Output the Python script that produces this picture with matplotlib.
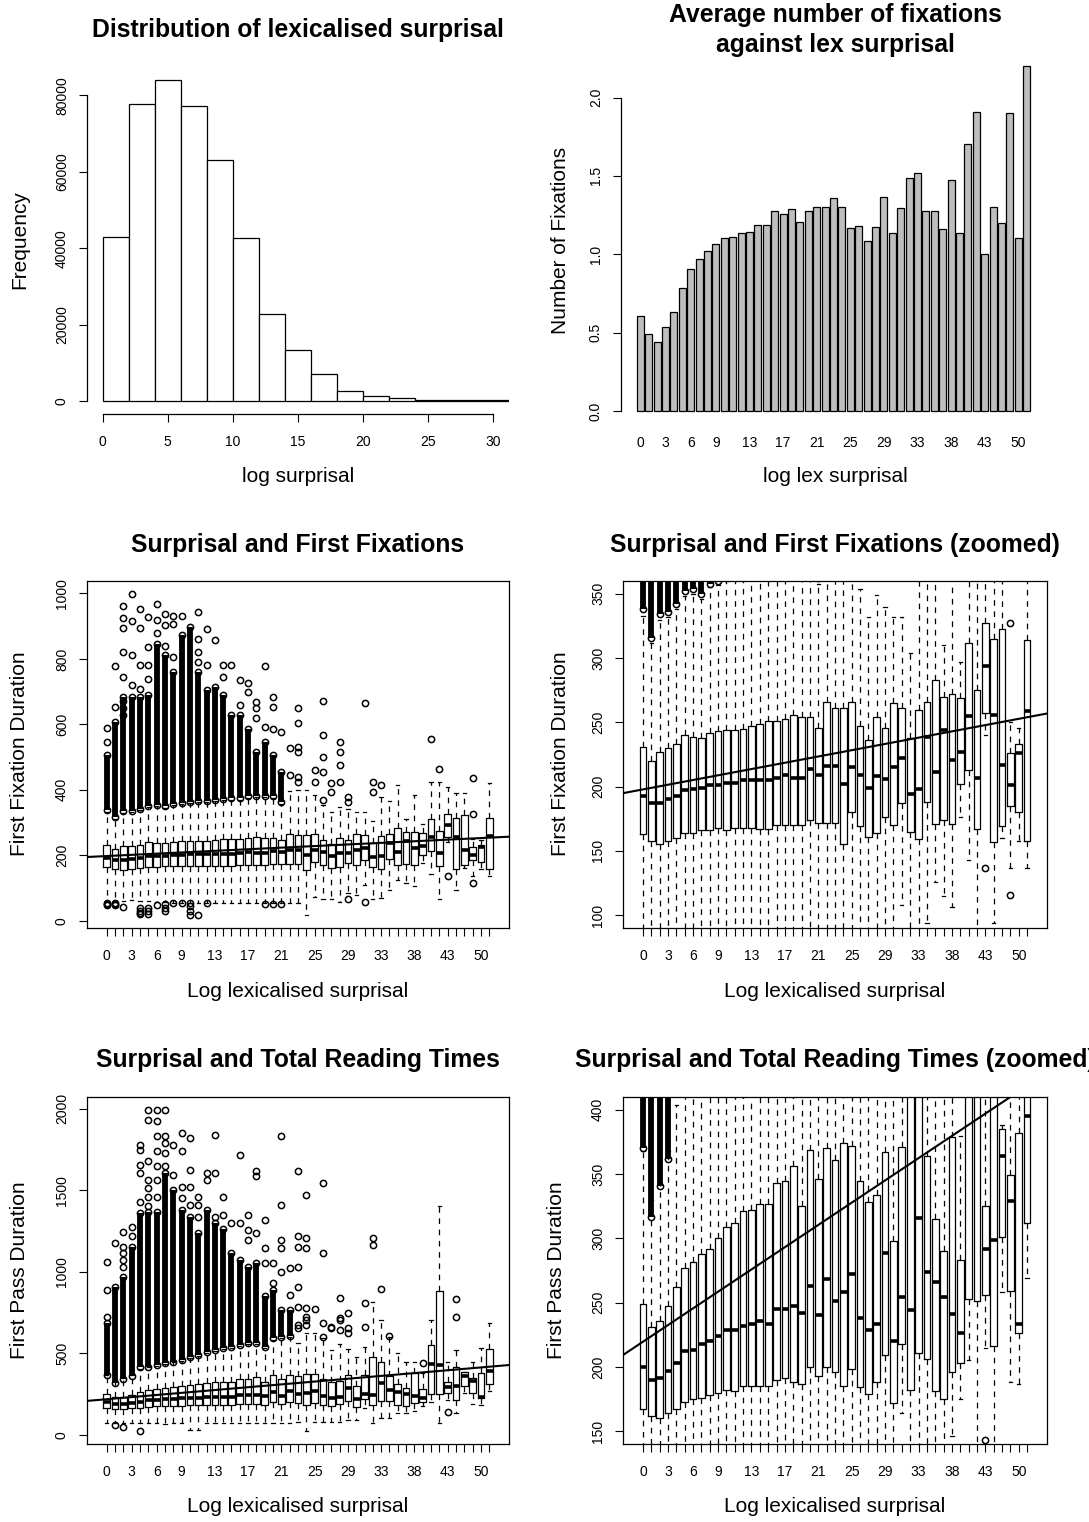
import numpy as np
import matplotlib
matplotlib.use("Agg")
import matplotlib.pyplot as plt

plt.rcParams['font.family'] = ['Liberation Sans', 'DejaVu Sans']

# ---------------- data ----------------
hist_edges = [0, 2, 4, 6, 8, 10, 12, 14, 16, 18, 20, 22, 24, 26, 28, 30, 32]
hist_counts = [42960, 77570, 84000, 77220, 63130, 42610, 22870, 13480, 7220,
               2610, 1220, 780, 430, 350, 300, 280]

cat_labels = [str(v) for v in list(range(0, 37)) + [38, 39, 40, 42, 43, 45, 47, 48, 50, 52]]
shown_label_idx = [0, 3, 6, 9, 13, 17, 21, 25, 29, 33, 37, 41, 45]

mean_fix = [0.606, 0.494, 0.443, 0.538, 0.634, 0.783, 0.906, 0.970, 1.021, 1.066,
            1.102, 1.111, 1.136, 1.145, 1.189, 1.189, 1.279, 1.260, 1.287, 1.209,
            1.279, 1.304, 1.304, 1.357, 1.304, 1.166, 1.181, 1.085, 1.174, 1.366,
            1.136, 1.296, 1.489, 1.517, 1.279, 1.279, 1.164, 1.472, 1.136, 1.702,
            1.911, 1.004, 1.304, 1.198, 1.904, 1.102, 2.202]

# First fixation duration box statistics
ffd_q1 = [163, 158, 155, 158, 160, 164, 164, 166, 166, 168, 166, 168, 168, 168, 167, 167,
          170, 170, 170, 170, 174, 172, 172, 172, 155, 180, 169, 161, 164, 176, 170, 187,
          165, 159, 188, 171, 174, 171, 202, 213, 167, 257, 157, 169, 185, 180, 158]
ffd_med = [193, 187, 187, 190, 193, 197, 198, 199, 201, 201, 203, 203, 205, 205, 205, 205,
           207, 209, 207, 207, 214, 209, 216, 216, 202, 215, 209, 199, 208, 206, 215, 222,
           194, 198, 239, 211, 244, 221, 227, 255, 207, 294, 256, 217, 201, 226, 259]
ffd_q3 = [231, 220, 227, 230, 233, 240, 239, 238, 242, 243, 244, 244, 245, 247, 249, 251,
          251, 253, 256, 254, 254, 246, 266, 261, 261, 266, 247, 236, 254, 246, 265, 261,
          238, 260, 266, 283, 270, 272, 269, 312, 275, 327, 315, 323, 226, 233, 314]
ffd_lo = [58, 57, 60, 63, 60, 60, 58, 57, 55, 55, 55, 55, 55, 53, 53, 53, 53, 53, 53, 53,
          55, 55, 53, 53, 17, 73, 68, 68, 58, 85, 78, 108, 68, 70, 94, 126, 115, 106, 176,
          143, 68, 240, 94, 160, 137, 158, 137]
ffd_hi = [333, 312, 330, 332, 338, 348, 350, 346, 355, 357, 360, 362, 362, 365, 368, 370,
          370, 375, 378, 378, 375, 358, 395, 400, 399, 384, 354, 332, 349, 340, 332, 332,
          304, 379, 365, 414, 310, 384, 297, 425, 425, 409, 389, 389, 250, 246, 420]
ffd_dense = [(338, 506), (316, 608), (334, 684), (336, 684), (342, 684), (352, 689),
             (354, 847), (350, 811), (358, 761), (360, 873), (363, 898), (366, 761),
             (366, 705), (369, 715), (372, 689), (374, 628), (375, 628), (380, 587),
             (382, 516), (382, 547), (380, 506), (362, 455)]
ffd_out = [[545, 590, 48, 52, 55], [654, 778, 48, 52, 55],
           [628, 650, 670, 745, 822, 893, 925, 962, 43], [720, 811, 915, 998],
           [709, 781, 893, 951, 20, 25, 30, 40], [740, 780, 837, 928, 20, 30, 40],
           [880, 918, 967, 48], [840, 903, 936, 30, 40, 50], [806, 908, 932, 53],
           [932, 53], [17, 30, 45, 53], [790, 822, 860, 942, 19], [781, 890, 53],
           [857], [745, 781], [781], [660, 735], [700, 725], [618, 649, 669],
           [593, 779, 50], [587, 654, 684, 50], [577, 50], [445, 527],
           [425, 440, 516, 532, 603, 649], [], [425, 460], [368, 455, 501, 567, 671],
           [394, 420], [423, 477, 516, 547], [364, 379, 68], [], [666, 58], [394, 425],
           [416], [], [], [], [], [], [554], [465], [137], [], [], [327, 437, 116], [], []]
ffd_fit = (196.6, 1.221)

# First pass duration box statistics
fpd_q1 = [167, 162, 160, 164, 167, 173, 175, 176, 178, 180, 182, 181, 185, 185, 185, 185,
          190, 191, 188, 187, 200, 193, 200, 196, 185, 198, 184, 179, 188, 209, 172, 218,
          182, 211, 206, 181, 175, 196, 203, 253, 251, 256, 216, 301, 259, 226, 312]
fpd_med = [200, 190, 191, 197, 203, 212, 213, 218, 220, 224, 229, 229, 232, 233, 236, 233,
           245, 245, 247, 242, 263, 240, 268, 251, 258, 272, 238, 229, 233, 289, 220, 254,
           244, 316, 274, 266, 254, 241, 226, 435, 429, 292, 299, 364, 329, 233, 395]
fpd_q3 = [249, 231, 236, 247, 262, 277, 282, 288, 292, 300, 309, 312, 321, 322, 327, 327,
          343, 345, 356, 325, 369, 346, 370, 361, 374, 372, 345, 328, 334, 367, 298, 371,
          480, 450, 364, 315, 290, 379, 283, 552, 885, 325, 419, 385, 349, 382, 530]
fpd_lo = [72, 72, 72, 72, 72, 72, 72, 70, 72, 72, 31, 31, 72, 72, 72, 72, 72, 72, 72, 72,
          72, 72, 72, 82, 27, 82, 82, 82, 82, 92, 92, 164, 75, 102, 102, 133, 133, 146, 175,
          205, 72, 215, 137, 258, 188, 187, 269]
fpd_hi = [368, 330, 348, 368, 404, 415, 425, 435, 445, 455, 475, 485, 505, 515, 525, 535,
          545, 555, 555, 535, 585, 595, 603, 562, 628, 628, 593, 521, 558, 530, 481, 542,
          818, 705, 603, 501, 450, 450, 380, 705, 1405, 450, 521, 388, 450, 532, 685]
fpd_dense = [(370, 685), (317, 910), (341, 971), (362, 1155), (419, 1360), (419, 1370),
             (429, 1370), (440, 1605), (450, 1503), (460, 1380), (481, 1339), (491, 1237),
             (511, 1380), (521, 1300), (532, 1260), (542, 1115), (552, 1074), (562, 1033),
             (562, 1053), (542, 850), (593, 890), (603, 767), (608, 767)]
fpd_out = [[726, 890, 1063], [1176, 61], [1033, 1074, 1115, 1155, 1247, 51], [1217, 1278],
           [1431, 1605, 1656, 1748, 1779, 27], [1401, 1462, 1513, 1564, 1677, 1933, 1994],
           [1462, 1564, 1646, 1738, 1830, 1922, 1994], [1646, 1728, 1789, 1830, 1994],
           [1595, 1779], [1452, 1523, 1738, 1851], [1411, 1523, 1626, 1820],
           [1339, 1411, 1462], [1564, 1605], [1339, 1605, 1841], [1350, 1462], [1299],
           [1299, 1718], [1196, 1258, 1350], [1237, 1585, 1616], [1053, 1145, 1319],
           [930, 1053], [999, 1145, 1196, 1411, 1836], [859, 1022],
           [656, 675, 787, 910, 1033, 1155, 1217, 1616],
           [675, 706, 726, 777, 1145, 1206, 1472], [771], [603, 685, 1115, 1544],
           [654, 664], [644, 706, 716, 839], [624, 654, 746], [], [665, 808],
           [1166, 1206], [896], [607], [], [], [], [440], [], [], [143],
           [726, 832], [], [], [], []]
fpd_fit = (215.2, 4.33)

# ---------------- figure ----------------
W, H = 1089, 1522
fig = plt.figure(figsize=(W / 100, H / 100), dpi=100)

TICK_FS = 10
LAB_FS = 15
TITLE_FS = 17.8


def axes_px(x0, x1, y0, y1):
    return fig.add_axes([x0 / W, 1 - y1 / H, (x1 - x0) / W, (y1 - y0) / H])


def ftext(x, y, s, **kw):
    kw.setdefault('ha', 'center')
    kw.setdefault('va', 'center')
    fig.text(x / W, 1 - y / H, s, **kw)


def style_y(ax):
    ax.tick_params(axis='y', direction='out', length=6, width=0.8, pad=7,
                   labelsize=TICK_FS)
    for lab in ax.get_yticklabels():
        lab.set_rotation(90)
        lab.set_va('center')
        lab.set_ha('right')


LW = 0.9

# ---- panel 1: histogram ----
ax = axes_px(87, 509, 67, 414)
ax.bar(hist_edges[:-1], hist_counts, width=np.diff(hist_edges), align='edge',
       facecolor='white', edgecolor='black', linewidth=LW)
ax.set_xlim(-1.2, 31.2)
ax.set_ylim(-3360, 87360)
for s in ['top', 'right']:
    ax.spines[s].set_visible(False)
ax.spines['left'].set_bounds(0, 80000)
ax.spines['bottom'].set_bounds(0, 30)
ax.spines['left'].set_linewidth(LW)
ax.spines['bottom'].set_linewidth(LW)
ax.set_xticks([0, 5, 10, 15, 20, 25, 30])
ax.set_yticks([0, 20000, 40000, 60000, 80000])
ax.set_yticklabels(['0', '20000', '40000', '60000', '80000'])
ax.tick_params(axis='x', direction='out', length=6, width=0.8, pad=9, labelsize=TICK_FS)
style_y(ax)
ftext(298, 30, 'Distribution of lexicalised surprisal', fontsize=TITLE_FS, fontweight='bold')
ftext(298, 477, 'log surprisal', fontsize=LAB_FS)
ftext(20, 240, 'Frequency', fontsize=LAB_FS, rotation=90)

# ---- panel 2: bar chart ----
ax = axes_px(621, 1046, 67, 414)
centers = [0.7 + 1.2 * i for i in range(len(mean_fix))]
ax.bar(centers, mean_fix, width=1.0, facecolor='#BEBEBE', edgecolor='black',
       linewidth=LW, clip_on=False)
ax.set_xlim(-2.048, 58.648)
ax.set_ylim(-0.019, 2.195)
for s in ['top', 'right', 'bottom']:
    ax.spines[s].set_visible(False)
ax.spines['left'].set_bounds(0, 2.0)
ax.spines['left'].set_linewidth(LW)
ax.set_yticks([0, 0.5, 1.0, 1.5, 2.0])
ax.set_yticklabels(['0.0', '0.5', '1.0', '1.5', '2.0'])
ax.set_xticks([centers[i] for i in shown_label_idx])
ax.set_xticklabels([cat_labels[i] for i in shown_label_idx])
ax.tick_params(axis='x', length=0, pad=16, labelsize=TICK_FS)
style_y(ax)
ftext(835, 30, 'Average number of fixations\nagainst lex surprisal', fontsize=TITLE_FS,
      fontweight='bold', linespacing=1.3)
ftext(835, 477, 'log lex surprisal', fontsize=LAB_FS)
ftext(560, 240, 'Number of Fixations', fontsize=LAB_FS, rotation=90)


# ---- boxplot panels ----
def box_panel(x0, x1, y0, y1, q1, med, q3, lo, hi, dense, out, fit, ylim, yticks):
    ax = axes_px(x0, x1, y0, y1)
    n = len(med)
    pos = np.arange(1, n + 1)
    stats = [dict(med=med[i], q1=q1[i], q3=q3[i], whislo=lo[i], whishi=hi[i], fliers=[])
             for i in range(n)]
    ax.bxp(stats, positions=pos, widths=0.8, capwidths=0.4, showfliers=False,
           manage_ticks=False,
           boxprops=dict(color='black', linewidth=LW),
           medianprops=dict(color='black', linewidth=2.6, solid_capstyle='butt'),
           whiskerprops=dict(color='black', linewidth=LW, linestyle=(0, (4.5, 4.5))),
           capprops=dict(color='black', linewidth=LW))
    for i, (dlo, dhi) in enumerate(dense):
        ax.vlines(pos[i], dlo, dhi, color='black', linewidth=4.2)
        ax.plot([pos[i], pos[i]], [dlo, dhi], 'o', mfc='none', mec='black', ms=4.5, mew=1.1)
    for i, vals in enumerate(out):
        if vals:
            ax.plot([pos[i]] * len(vals), vals, 'o', mfc='none', mec='black', ms=4.5, mew=1.1)
    xl = (-1.38, n + 2.38)
    ax.set_xlim(*xl)
    ax.set_ylim(*ylim)
    xs = np.array(xl)
    ax.plot(xs, fit[0] + fit[1] * xs, color='black', linewidth=1.5)
    ax.set_xticks(pos)
    ax.set_xticklabels([cat_labels[i] if i in shown_label_idx else '' for i in range(n)])
    ax.tick_params(axis='x', direction='out', length=6, width=0.8, pad=9, labelsize=TICK_FS)
    ax.set_yticks(yticks)
    ax.set_yticklabels([str(t) for t in yticks])
    style_y(ax)
    for s in ax.spines.values():
        s.set_linewidth(LW)
    return ax


box_panel(87, 509, 581, 928, ffd_q1, ffd_med, ffd_q3, ffd_lo, ffd_hi, ffd_dense, ffd_out,
          ffd_fit, (-22, 1038), [0, 200, 400, 600, 800, 1000])
ftext(298, 545, 'Surprisal and First Fixations', fontsize=TITLE_FS, fontweight='bold')
ftext(298, 992, 'Log lexicalised surprisal', fontsize=LAB_FS)
ftext(20, 754, 'First Fixation Duration', fontsize=LAB_FS, rotation=90)

box_panel(623, 1047, 581, 928, ffd_q1, ffd_med, ffd_q3, ffd_lo, ffd_hi, ffd_dense, ffd_out,
          ffd_fit, (90, 360), [100, 150, 200, 250, 300, 350])
ftext(835, 545, 'Surprisal and First Fixations (zoomed)', fontsize=TITLE_FS, fontweight='bold')
ftext(835, 992, 'Log lexicalised surprisal', fontsize=LAB_FS)
ftext(560, 754, 'First Fixation Duration', fontsize=LAB_FS, rotation=90)

box_panel(87, 509, 1097, 1444, fpd_q1, fpd_med, fpd_q3, fpd_lo, fpd_hi, fpd_dense, fpd_out,
          fpd_fit, (-55, 2072), [0, 500, 1000, 1500, 2000])
ftext(298, 1060, 'Surprisal and Total Reading Times', fontsize=TITLE_FS, fontweight='bold')
ftext(298, 1507, 'Log lexicalised surprisal', fontsize=LAB_FS)
ftext(20, 1270, 'First Pass Duration', fontsize=LAB_FS, rotation=90)

box_panel(623, 1047, 1097, 1444, fpd_q1, fpd_med, fpd_q3, fpd_lo, fpd_hi, fpd_dense, fpd_out,
          fpd_fit, (140, 410), [150, 200, 250, 300, 350, 400])
ftext(835, 1060, 'Surprisal and Total Reading Times (zoomed)', fontsize=TITLE_FS,
      fontweight='bold')
ftext(835, 1507, 'Log lexicalised surprisal', fontsize=LAB_FS)
ftext(557, 1270, 'First Pass Duration', fontsize=LAB_FS, rotation=90)

fig.savefig('out.png', dpi=100)
